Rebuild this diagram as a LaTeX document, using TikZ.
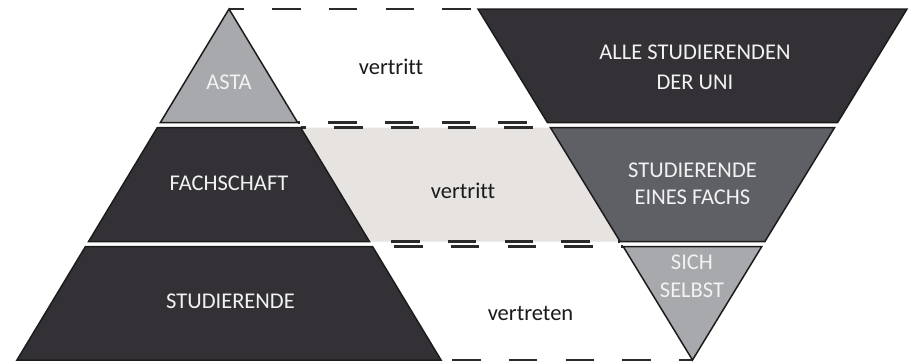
\documentclass[tikz,border=0pt]{standalone}
\usepackage{fontspec}
\setmainfont{Carlito}[Ligatures={NoCommon}]
\definecolor{darkfill}{HTML}{333135}
\definecolor{midfill}{HTML}{5F6066}
\definecolor{lightfill}{HTML}{A8A9AC}
\definecolor{bandfill}{HTML}{E6E3E1}
\definecolor{outline}{HTML}{1C1C1C}
\definecolor{dashcol}{HTML}{2A2A2A}
\definecolor{textwhite}{HTML}{F2F2F2}
\definecolor{textblack}{HTML}{1A1A1A}
\begin{document}
\begin{tikzpicture}[x=1pt,y=-1pt,
  piece/.style={draw=outline, line width=1.5pt, line join=miter},
  dashline/.style={draw=dashcol, line width=2.4pt, dash pattern=on 28.6pt off 28.2pt},
  caplabel/.style={text=textwhite, font=\fontsize{22.5}{28}\selectfont, inner sep=0pt},
  verblabel/.style={text=textblack, font=\fontsize{22.5}{28}\selectfont, inner sep=0pt, anchor=base}]
\fill[white] (0,0) rectangle (910,362);
\useasboundingbox (0,0) rectangle (910,362);
% left pyramid corners
\coordinate (LA) at (229,9);
\coordinate (La1) at (160.4,122.5);
\coordinate (Lb1) at (297.6,122.5);
\coordinate (Lc1) at (157.4,127.5);
\coordinate (Ld1) at (300.6,127.5);
\coordinate (Lc2) at (88.6,241.5);
\coordinate (Ld2) at (369.4,241.5);
\coordinate (Lc3) at (85.5,246.5);
\coordinate (Ld3) at (372.5,246.5);
\coordinate (Lc4) at (17,360);
\coordinate (Ld4) at (441,360);
% right inverted pyramid corners
\coordinate (Ra0) at (478,9);
\coordinate (Rb0) at (907,9);
\coordinate (Ra1) at (547.4,122.5);
\coordinate (Rb1) at (837.6,122.5);
\coordinate (Ra2) at (550.4,127.5);
\coordinate (Rb2) at (834.6,127.5);
\coordinate (Ra3) at (620.1,241.5);
\coordinate (Rb3) at (764.9,241.5);
\coordinate (Ra4) at (623.2,246.5);
\coordinate (Rb4) at (761.8,246.5);
\coordinate (RA) at (692.5,360);
% light band
\fill[bandfill] (Ld1) -- (Ra2) -- (Ra3) -- (Ld2) -- cycle;
% dashed connectors
\draw[dashline, dash phase=13.8pt] (LA) -- (Ra0);
\draw[dashline, dash phase=26.4pt] (Lb1) -- (Ra1);
\draw[dashline, dash phase=23.4pt] (Ld1) -- (Ra2);
\draw[dashline, dash phase=35.2pt] (Ld2) -- (Ra3);
\draw[dashline, dash phase=35.3pt] (Ld3) -- (Ra4);
\draw[dashline, dash phase=45.8pt] (Ld4) -- (RA);
% pieces
\draw[piece, fill=lightfill] (LA) -- (Lb1) -- (La1) -- cycle;
\draw[piece, fill=darkfill] (Lc1) -- (Ld1) -- (Ld2) -- (Lc2) -- cycle;
\draw[piece, fill=darkfill] (Lc3) -- (Ld3) -- (Ld4) -- (Lc4) -- cycle;
\draw[piece, fill=darkfill] (Ra0) -- (Rb0) -- (Rb1) -- (Ra1) -- cycle;
\draw[piece, fill=midfill] (Ra2) -- (Rb2) -- (Rb3) -- (Ra3) -- cycle;
\draw[piece, fill=lightfill] (Ra4) -- (Rb4) -- (RA) -- cycle;
% labels
\node[caplabel, anchor=base] (asta) at (229,89) {ASTA};
\node[caplabel, anchor=base] (fach) at (229,190) {FACHSCHAFT};
\node[caplabel, anchor=base] (stud) at (230.5,308) {STUDIERENDE};
\node[caplabel, align=center, font=\fontsize{22.5}{30}\selectfont] (alle) at (695,67.5) {ALLE STUDIERENDEN\\DER UNI};
\node[caplabel, align=center, font=\fontsize{22.5}{27}\selectfont] (eines) at (692.5,184) {STUDIERENDE\\EINES FACHS};
\node[caplabel, align=center, font=\fontsize{22.5}{28}\selectfont] (selbst) at (692,276) {SICH\\SELBST};
\node[verblabel] (v1) at (391,74) {vertritt};
\node[verblabel] (v2) at (463,198) {vertritt};
\node[verblabel] (v3) at (530.5,320) {vertreten};
\end{tikzpicture}
\end{document}
